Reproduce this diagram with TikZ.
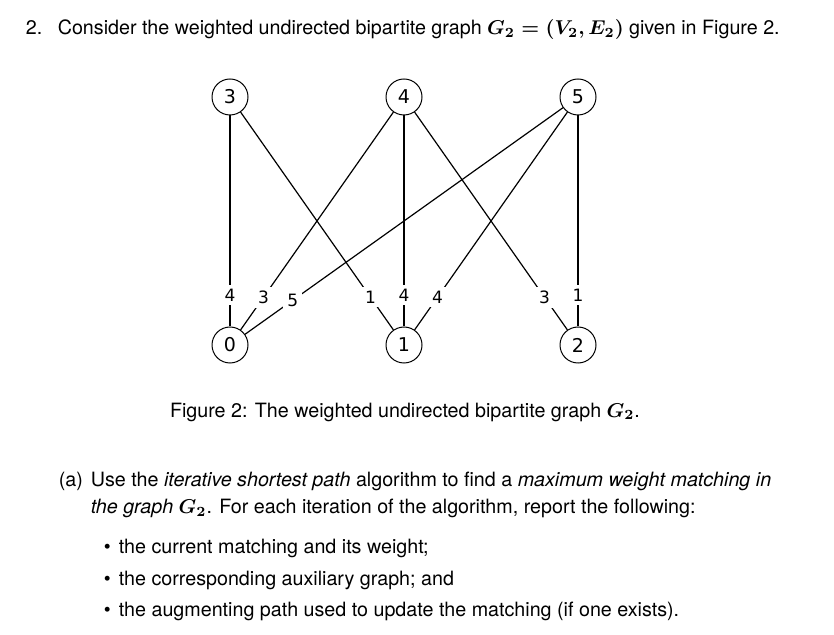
\documentclass[tikz,border=0pt]{standalone}
\usepackage{amsmath}
\usepackage{amssymb}
\usepackage{fontspec}
\setmainfont{TeX Gyre Heros}
\newfontfamily\dejavu{DejaVu Sans}
\usetikzlibrary{positioning}

\begin{document}
\begin{tikzpicture}[x=0.5pt, y=-0.5pt, thick]
    \tikzset{
        vertex/.style={draw, circle, line width=0.5pt, minimum size=18pt, inner sep=0pt, font=\dejavu\fontsize{9.5}{11}\selectfont},
        edge/.style={line width=0.6pt},
        weight/.style={fill=white, inner sep=2pt, pos=0.85, font=\dejavu\fontsize{8.5}{10}\selectfont},
        txt/.style={anchor=base west, inner sep=0pt, font=\fontsize{9.85}{12}\selectfont}
    }
    \useasboundingbox (0,0) rectangle (834,635);

    % top row
    \node (three) [vertex] at (230,97) {3};
    \node (four) [vertex] at (404,97) {4};
    \node (five) [vertex] at (578,97) {5};
    % bottom row
    \node (zero) [vertex] at (230,345) {0};
    \node (one) [vertex] at (404,345) {1};
    \node (two) [vertex] at (578,345) {2};

    \draw[edge] (three) -- node[weight] {4} (zero);
    \draw[edge] (four) -- node[weight] {3} (zero);
    \draw[edge] (five) -- node[weight] {5} (zero);
    \draw[edge] (three) -- node[weight] {1} (one);
    \draw[edge] (four) -- node[weight] {4} (one);
    \draw[edge] (five) -- node[weight] {4} (one);
    \draw[edge] (four) -- node[weight] {3} (two);
    \draw[edge] (five) -- node[weight] {1} (two);

    % text
    \node (num) [txt] at (25,35) {2.};
    \node (question) [txt] at (57,35) {Consider the weighted undirected bipartite graph $\boldsymbol{G_2=(V_2,E_2)}$ given in Figure 2.};
    \node (caption) [txt, anchor=base] at (405,417) {Figure 2: The weighted undirected bipartite graph $\boldsymbol{G_2}$.};
    \node (parta) [txt] at (58,486) {(a)};
    \node (task) [txt] at (90,486) {Use the \textit{iterative shortest path} algorithm to find a \textit{maximum weight matching in}};
    \node (task2) [txt] at (90,513) {\textit{the graph} $\boldsymbol{G_2}$. For each iteration of the algorithm, report the following:};
    \foreach \y/\t [count=\i] in {553/{the current matching and its weight;},
                                  585/{the corresponding auxiliary graph; and},
                                  616/{the augmenting path used to update the matching (if one exists).}} {
        \node (dot\i) [txt] at (103,\y) {\textbullet};
        \node (item\i) [txt] at (118,\y) {\t};
    }
\end{tikzpicture}
\end{document}
